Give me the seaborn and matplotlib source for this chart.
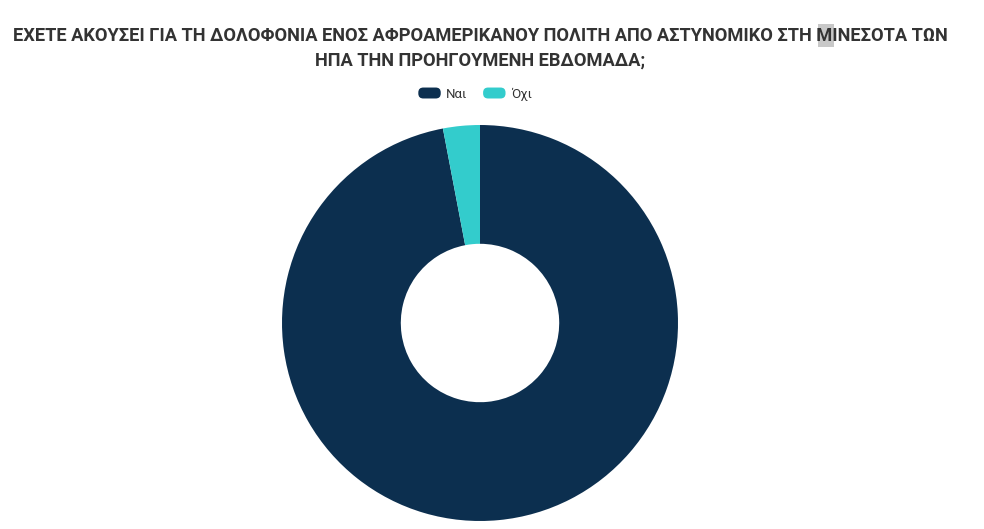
import matplotlib
matplotlib.use("Agg")
import matplotlib.pyplot as plt
import seaborn as sns
from matplotlib.patches import Patch, FancyBboxPatch, Rectangle
from matplotlib.legend_handler import HandlerPatch

sns.set_theme(style="white")
plt.rcParams["font.family"] = ["Roboto", "DejaVu Sans"]

labels = ["Ναι", "Όχι"]
values = [97, 3]
colors = ["#0c2f4f", "#33cccc"]

title = ("ΕΧΕΤΕ ΑΚΟΥΣΕΙ ΓΙΑ ΤΗ ΔΟΛΟΦΟΝΙΑ ΕΝΟΣ ΑΦΡΟΑΜΕΡΙΚΑΝΟΥ ΠΟΛΙΤΗ ΑΠΟ ΑΣΤΥΝΟΜΙΚΟ ΣΤΗ ΜΙΝΕΣΟΤΑ ΤΩΝ\n"
         "ΗΠΑ ΤΗΝ ΠΡΟΗΓΟΥΜΕΝΗ ΕΒΔΟΜΑΔΑ;")


class RoundHandler(HandlerPatch):
    def create_artists(self, legend, orig_handle, xdescent, ydescent,
                       width, height, fontsize, trans):
        p = FancyBboxPatch((-xdescent, -ydescent), width, height,
                           boxstyle="round,pad=0,rounding_size=%f" % (height / 2.2),
                           facecolor=orig_handle.get_facecolor(), edgecolor="none",
                           transform=trans)
        return [p]


fig = plt.figure(figsize=(9.84, 5.29), dpi=100)
fig.patch.set_facecolor("white")
ax = fig.add_axes([282 / 984, 8 / 529, 396 / 984, 396 / 529])

ax.pie(values, colors=colors, startangle=90, counterclock=False,
       wedgeprops=dict(width=0.6, edgecolor="none"))
ax.set_xlim(-1, 1)
ax.set_ylim(-1, 1)
ax.set_aspect("equal")
ax.axis("off")

# grey selection mark behind the "Μ"
fig.patches.append(Rectangle((817.5 / 984, 1 - 47 / 529), 16 / 984, 23 / 529,
                             transform=fig.transFigure, facecolor="#c8c8c8",
                             edgecolor="none", zorder=0))

fig.text(480 / 984, 1 - 48.5 / 529, title, ha="center", va="center",
         fontsize=13.15, fontweight="bold", color="#333333", linespacing=1.45, zorder=2)

handles = [Patch(facecolor=c, edgecolor="none", label=l) for c, l in zip(colors, labels)]
leg = fig.legend(handles=handles, loc="center", bbox_to_anchor=(475 / 984, 1 - 94 / 529),
                 ncol=2, frameon=False, fontsize=9.5, handlelength=1.7, handleheight=0.9,
                 columnspacing=1.2, handletextpad=0.4,
                 handler_map={Patch: RoundHandler()})
for t in leg.get_texts():
    t.set_color("#333333")

fig.savefig("out.png", dpi=100)
